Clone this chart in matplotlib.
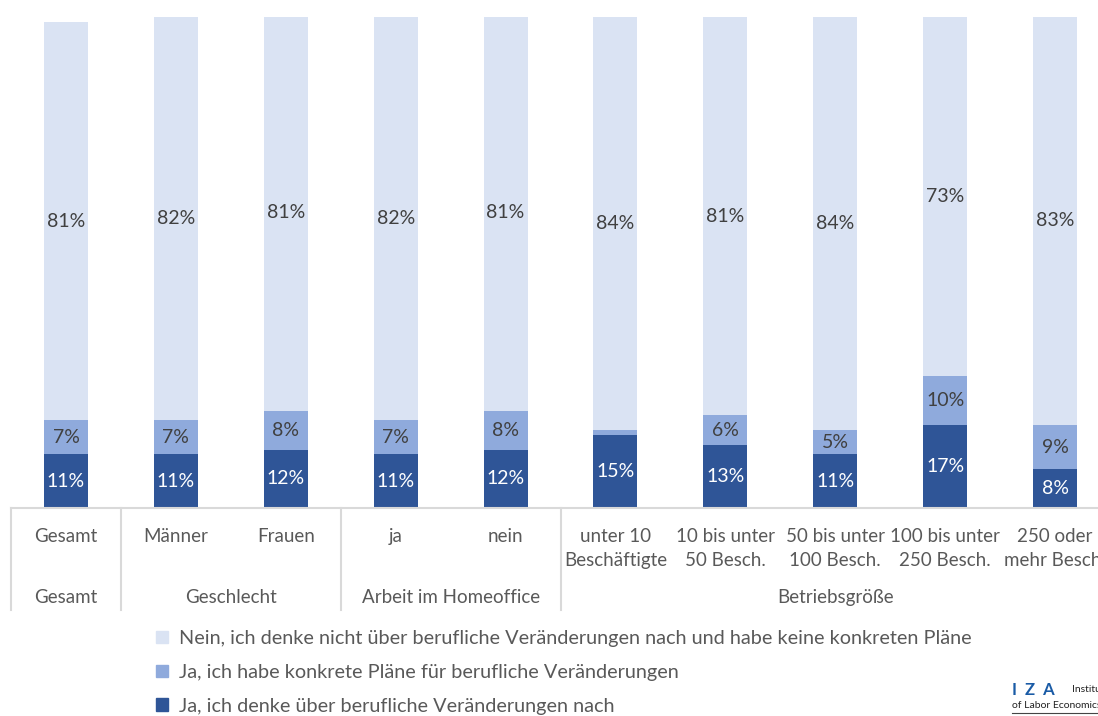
import matplotlib.pyplot as plt
import matplotlib.transforms as mtransforms
from matplotlib.patches import Patch

plt.rcParams['font.family'] = ['Lato', 'DejaVu Sans']

# categories (x axis, first row) and their groups (second row)
categories = ['Gesamt', 'Männer', 'Frauen', 'ja', 'nein',
              'unter 10\nBeschäftigte', '10 bis unter\n50 Besch.', '50 bis unter\n100 Besch.',
              '100 bis unter\n250 Besch.', '250 oder\nmehr Besch.']
groups = ['Gesamt', 'Geschlecht', 'Arbeit im Homeoffice', 'Betriebsgröße']
group_spans = [(0, 0), (1, 2), (3, 4), (5, 9)]

# shares in percent
denke_nach = [10.9, 10.9, 11.9, 10.9, 11.9, 14.8, 12.8, 10.9, 16.9, 7.9]
konkrete_plaene = [7.0, 7.0, 7.9, 7.0, 7.9, 1.1, 6.1, 5.0, 10.0, 9.0]
nein = [81.0, 82.0, 80.6, 82.0, 80.6, 84.2, 81.1, 84.2, 73.1, 83.2]

labels = ['Ja, ich denke über berufliche Veränderungen nach',
          'Ja, ich habe konkrete Pläne für berufliche Veränderungen',
          'Nein, ich denke nicht über berufliche Veränderungen nach und habe keine konkreten Pläne']
colors = ['#2F5597', '#8FAADC', '#DAE3F3']
text_colors = ['white', '#404040', '#404040']

W, H = 1098, 716
fig = plt.figure(figsize=(W / 100, H / 100), dpi=100)
ax = fig.add_axes([11 / W, (H - 508) / H, 1099 / W, 491 / H])

x = list(range(len(categories)))
bottom = [0.0] * len(categories)
for series, col, tcol in zip([denke_nach, konkrete_plaene, nein], colors, text_colors):
    bars = ax.bar(x, series, width=0.4, bottom=bottom, color=col, edgecolor='none')
    for xi, b, v in zip(x, bottom, series):
        if v >= 2:
            ax.text(xi, b + v / 2, f'{v:.0f}%', ha='center', va='center',
                    fontsize=14, color=tcol)
    bottom = [b + v for b, v in zip(bottom, series)]

ax.set_xlim(-0.5, len(categories) - 0.5)
ax.set_ylim(0, 100)
ax.set_yticks([])
ax.set_xticks([])
for s in ['top', 'left', 'right']:
    ax.spines[s].set_visible(False)
ax.spines['bottom'].set_color('#D9D9D9')
ax.spines['bottom'].set_linewidth(1.5)

# two-level category axis
trans = mtransforms.blended_transform_factory(ax.transData, ax.transAxes)
grey = '#595959'
for xi, cat in zip(x, categories):
    ax.text(xi, -0.040, cat, transform=trans, ha='center', va='top',
            fontsize=13.5, color=grey, linespacing=1.5)
for name, (a, b) in zip(groups, group_spans):
    ax.text((a + b) / 2, -0.183, name, transform=trans, ha='center', va='center',
            fontsize=13.5, color=grey)
for sep in [-0.5, 0.5, 2.5, 4.5]:
    ax.plot([sep, sep], [0, -0.208], transform=trans, color='#D9D9D9',
            lw=1.5, clip_on=False)

# legend, light series on top
handles = [Patch(color=c) for c in colors][::-1]
fig.legend(handles, labels[::-1], loc='upper left',
           bbox_to_anchor=(146 / W, 1 - 620 / H), frameon=False,
           fontsize=14.3, labelcolor=grey, handlelength=0.6, handleheight=0.6,
           handletextpad=0.55, labelspacing=0.85, borderpad=0)

# IZA logo text
fig.text(1012 / W, 1 - 690 / H, 'I  Z  A', color='#1A5BA6', fontsize=12,
         fontweight='bold', va='center')
fig.text(1072 / W, 1 - 690 / H, 'Institute', color='#222222', fontsize=7.5, va='center')
fig.text(1012 / W, 1 - 705 / H, 'of Labor Economics', color='#222222', fontsize=7.5, va='center')
fig.add_artist(plt.Line2D([1012 / W, 1], [1 - 713 / H] * 2, color='#444444', lw=0.8))

fig.savefig('out.png', dpi=100)
